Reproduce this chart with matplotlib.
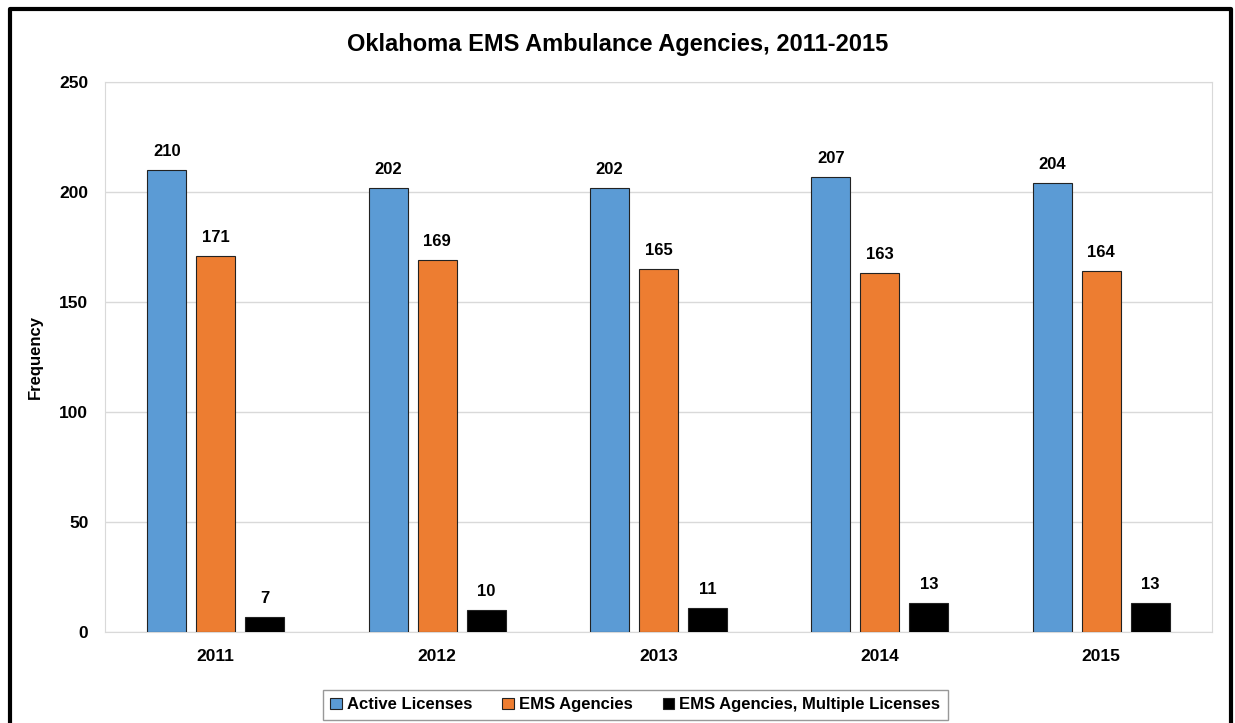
import numpy as np
import matplotlib.pyplot as plt
from matplotlib.lines import Line2D

plt.rcParams['font.family'] = ['Liberation Sans', 'DejaVu Sans']
plt.rcParams['font.weight'] = 'bold'

years = ["2011", "2012", "2013", "2014", "2015"]
active = [210, 202, 202, 207, 204]
agencies = [171, 169, 165, 163, 164]
multiple = [7, 10, 11, 13, 13]
series = ["Active Licenses", "EMS Agencies", "EMS Agencies, Multiple Licenses"]
colores = ["#5b9bd5", "#ed7d31", "#000000"]

fig = plt.figure(figsize=(12.35, 7.23), dpi=100)
ax = fig.add_axes([105 / 1235, 1 - 632 / 723, 1107 / 1235, 550 / 723])

x = np.arange(len(years))
w = 0.176
step = 0.221
for i, (vals, c) in enumerate(zip([active, agencies, multiple], colores)):
    pos = x + (i - 1) * step
    bars = ax.bar(pos, vals, width=w, color=c, edgecolor="#222222", linewidth=0.8,
                  label=series[i], zorder=3)
    for b, v in zip(bars, vals):
        ax.text(b.get_x() + b.get_width() / 2, v + 5, str(v), ha="center", va="bottom",
                fontsize=12, fontweight="bold")

ax.set_xlim(-0.5, len(years) - 0.5)
ax.set_ylim(0, 250)
ax.set_yticks(range(0, 251, 50))
ax.set_xticks(x)
ax.set_xticklabels(years)
ax.tick_params(axis="both", length=0, labelsize=12.5)
ax.tick_params(axis="y", pad=12)
ax.tick_params(axis="x", pad=12)
ax.grid(axis="y", color="#d9d9d9", linewidth=1, zorder=0)
for s in ax.spines.values():
    s.set_color("#d9d9d9")
ax.set_ylabel("Frequency", fontsize=12, fontweight="bold", labelpad=12)

fig.suptitle("Oklahoma EMS Ambulance Agencies, 2011-2015", fontsize=17, fontweight="bold",
             y=1 - 45 / 723, va="center")

leg = ax.legend(loc="upper center", bbox_to_anchor=(0.479, -0.09), ncol=3, fontsize=12,
                frameon=True, fancybox=False, edgecolor="#7f7f7f", handlelength=0.7,
                handleheight=0.7, columnspacing=1.8, handletextpad=0.3, borderpad=0.45)
leg.get_frame().set_linewidth(1)

# outer chart border
fx = [10 / 1235, 10 / 1235, 1231 / 1235, 1231 / 1235]
fy = [0, 1 - 9 / 723, 1 - 9 / 723, 0]
fig.add_artist(Line2D(fx, fy, color="black", linewidth=3, transform=fig.transFigure))

fig.savefig("out.png", dpi=100)
